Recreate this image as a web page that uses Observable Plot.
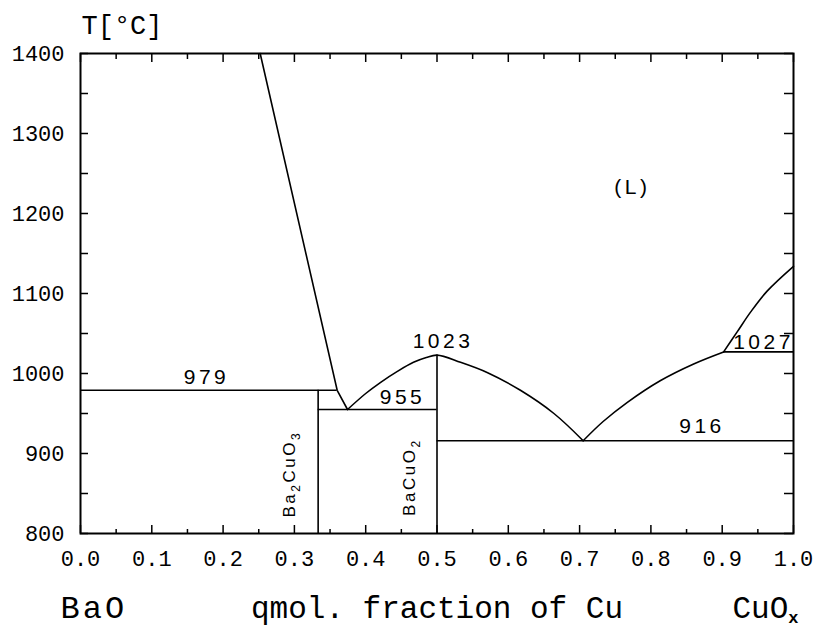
<!DOCTYPE html>
<html>
<head>
<meta charset="utf-8">
<script src="https://cdn.jsdelivr.net/npm/d3@7"></script>
<script src="https://cdn.jsdelivr.net/npm/@observablehq/plot@0.6"></script>
<style>
  html, body { margin: 0; padding: 0; background: #fff; }
</style>
</head>
<body>
<div id="chart"></div>
<script>
// ---- tick values ----
const xTicks = [0.0, 0.1, 0.2, 0.3, 0.4, 0.5, 0.6, 0.7, 0.8, 0.9, 1.0];
const xMinorTicks = [0.05, 0.15, 0.25, 0.35, 0.45, 0.55, 0.65, 0.75, 0.85, 0.95];
const yTicks = [800, 900, 1000, 1100, 1200, 1300, 1400];
const yMinorTicks = [850, 950, 1050, 1150, 1250, 1350];

// ---- liquidus curves (x = mol. fraction of Cu, T in °C) ----
const liqBaOX = [0.252, 0.360, 0.3745];
const liqBaOT = [1400, 979, 955];

const domeX = [0.3745, 0.400, 0.421, 0.445, 0.467, 0.485, 0.500, 0.533, 0.571, 0.617, 0.664, 0.705];
const domeT = [955, 975, 989, 1003, 1014, 1020, 1023, 1014, 1001, 979, 950, 916];

const liqCuX = [0.705, 0.733, 0.767, 0.813, 0.860, 0.902];
const liqCuT = [916, 940, 964, 991, 1012, 1027];

const liqCuHighX = [0.902, 0.921, 0.940, 0.963, 1.000];
const liqCuHighT = [1027, 1052, 1077, 1103, 1134];

// ---- isotherms ----
const isoT  = [979, 955, 916, 1027];
const isoX1 = [0.0, 0.3333, 0.5, 0.902];
const isoX2 = [0.360, 0.5, 1.0, 1.0];

// ---- compounds ----
const compX = [0.3333, 0.5];
const compTop = [979, 1023];
const compNames = ["Ba\u2082CuO\u2083", "BaCuO\u2082"];
const compLabelX = [0.3015, 0.4698];
const compLabelT = [820, 822];

// ---- temperature labels ----
const labelText = ["979", "955", "1023", "916", "1027", "(L)"];
const labelX = [0.1767, 0.4516, 0.5084, 0.8717, 0.958, 0.774];
const labelT = [987.5, 962.5, 1032.5, 926, 1030.5, 1225];

const toPts = (xs, ts) => xs.map((x, i) => ({x, T: ts[i]}));
const isoData = isoT.map((T, i) => ({T, x1: isoX1[i], x2: isoX2[i]}));
const compData = compX.map((x, i) => ({x, top: compTop[i], name: compNames[i], lx: compLabelX[i], lT: compLabelT[i]}));
const labelData = labelText.map((t, i) => ({t, x: labelX[i], T: labelT[i]}));

const W = 814, H = 628;
const mL = 80, mR = 21, mT = 53, mB = 95;
const plotW = W - mL - mR, plotH = H - mT - mB;
const sw = 1.6;

const chart = Plot.plot({
  width: W,
  height: H,
  marginLeft: mL,
  marginRight: mR,
  marginTop: mT,
  marginBottom: mB,
  style: {fontFamily: "'Liberation Mono', monospace", fontSize: "22px", color: "#000", background: "#fff"},
  x: {domain: [0, 1]},
  y: {domain: [800, 1400]},
  marks: [
    Plot.axisX(xTicks, {tickSize: 0, tickPadding: 17, tickFormat: d3.format(".1f"), label: null, fontSize: 22}),
    Plot.axisY(yTicks, {tickSize: 0, tickPadding: 16, tickFormat: d => String(d), label: null, fontSize: 22}),
    // inward ticks
    Plot.tickX(xTicks, {x: d => d, insetTop: plotH - 8, stroke: "#000", strokeWidth: 1.5}),
    Plot.tickX(xMinorTicks, {x: d => d, insetTop: plotH - 4, stroke: "#000", strokeWidth: 1.5}),
    Plot.tickX(xTicks, {x: d => d, insetBottom: plotH - 9, stroke: "#000", strokeWidth: 1.5}),
    Plot.tickX(xMinorTicks, {x: d => d, insetBottom: plotH - 6, stroke: "#000", strokeWidth: 1.5}),
    Plot.tickY(yTicks.concat(yMinorTicks), {y: d => d, insetRight: plotW - 8, stroke: "#000", strokeWidth: 1.5}),
    Plot.tickY(yTicks.concat(yMinorTicks), {y: d => d, insetLeft: plotW - 9, stroke: "#000", strokeWidth: 1.5}),
    Plot.frame({stroke: "#000", strokeWidth: 2}),
    // isotherms and compound lines
    Plot.ruleY(isoData, {y: "T", x1: "x1", x2: "x2", stroke: "#000", strokeWidth: sw}),
    Plot.ruleX(compData, {x: "x", y1: 800, y2: "top", stroke: "#000", strokeWidth: sw}),
    // liquidus
    Plot.line(toPts(liqBaOX, liqBaOT), {x: "x", y: "T", stroke: "#000", strokeWidth: sw}),
    Plot.line(toPts(domeX, domeT), {x: "x", y: "T", stroke: "#000", strokeWidth: sw, curve: "catmull-rom"}),
    Plot.line(toPts(liqCuX, liqCuT), {x: "x", y: "T", stroke: "#000", strokeWidth: sw, curve: "catmull-rom"}),
    Plot.line(toPts(liqCuHighX, liqCuHighT), {x: "x", y: "T", stroke: "#000", strokeWidth: sw, curve: "catmull-rom"}),
    // labels
    Plot.text(labelData, {x: "x", y: "T", text: "t", lineAnchor: "bottom", textAnchor: "middle",
      fontFamily: "'Liberation Sans', Arial, sans-serif", fontSize: 21, fill: "#000"}),
    Plot.text(compData, {x: "lx", y: "lT", text: "name", rotate: -90, lineAnchor: "bottom", textAnchor: "start",
      fontFamily: "'Liberation Sans', 'DejaVu Sans', sans-serif", fontSize: 17, fill: "#000"}),
    // axis titles
    Plot.text(["T[\u00B0C]"], {text: d => d, frameAnchor: "top-left", textAnchor: "start", lineAnchor: "bottom",
      dx: 1, dy: -20, fontSize: 27, fill: "#000"}),
    Plot.text(["BaO"], {text: d => d, frameAnchor: "bottom-left", textAnchor: "start", lineAnchor: "bottom",
      dx: -20, dy: 84, fontSize: 32, fill: "#000"}),
    Plot.text(["qmol. fraction of Cu"], {text: d => d, frameAnchor: "bottom", textAnchor: "middle", lineAnchor: "bottom",
      dx: 0, dy: 84, fontSize: 31, fill: "#000"}),
    Plot.text(["CuO\u2093"], {text: d => d, frameAnchor: "bottom-right", textAnchor: "end", lineAnchor: "bottom",
      dx: 5, dy: 84, fontSize: 31, fill: "#000"})
  ]
});

// letter spacing on the in-plot labels
d3.select(chart).selectAll('g[font-size="21"] text').style("letter-spacing", "3.5px");
d3.select(chart).selectAll('g[font-size="17"] text').style("letter-spacing", "2.5px");
d3.select(chart).selectAll('g[font-size="32"] text').style("letter-spacing", "3px");

// convert unicode subscripts into lowered tspans
const subMap = {"\u2082": "2", "\u2083": "3", "\u2093": "x"};
function subscriptify(sel, subSize, shift, bold) {
  sel.each(function() {
    const t = d3.select(this);
    const s = this.textContent;
    if (!/[\u2082\u2083\u2093]/.test(s)) return;
    t.text(null);
    let lowered = false;
    for (const ch of s) {
      const sp = t.append("tspan");
      if (subMap[ch]) {
        sp.text(subMap[ch]).attr("font-size", subSize).attr("dy", lowered ? 0 : shift);
        if (bold) sp.attr("font-weight", "bold");
        lowered = true;
      } else {
        sp.text(ch);
        if (lowered) { sp.attr("dy", -shift); lowered = false; }
      }
    }
  });
}
subscriptify(d3.select(chart).selectAll('g[font-size="17"] text'), 12, 5, false);
subscriptify(d3.select(chart).selectAll('g[font-size="31"] text'), 17, 5, true);

document.getElementById("chart").appendChild(chart);
</script>
</body>
</html>
